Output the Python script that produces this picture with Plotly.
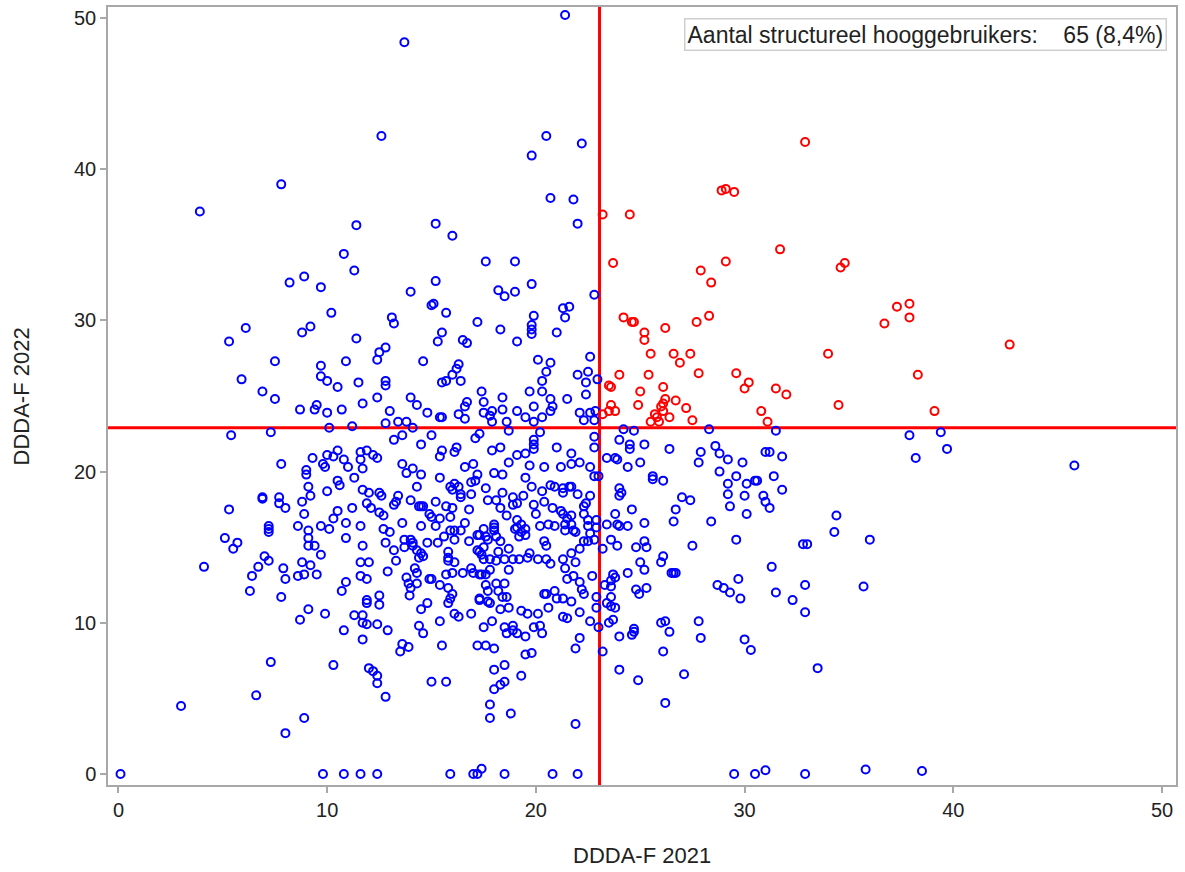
import plotly.graph_objects as go

# ---- data (x = DDDA-F 2021, y = DDDA-F 2022) ----
blue_top = [(21.4,50.2),(13.7,48.4),(12.6,42.2),(20.5,42.2),(22.2,41.7),(19.8,40.9),(7.8,39.0),(3.9,37.2),
 (20.7,38.1),(21.8,38.0),(11.4,36.3),(15.2,36.4),(16.0,35.6),(22.0,36.4),(10.8,34.4),(11.3,33.3),(17.6,33.9),
 (19.0,33.9),(8.2,32.5),(8.9,32.9),(9.7,32.2),(15.2,32.6),(14.0,31.9),(18.2,32.0),(18.5,31.6),(19.0,31.9),
 (19.8,32.4),(22.8,31.7)]

blue_upper_left = [(10.2,30.5),(6.1,29.5),(9.2,29.6),(8.8,29.2),(5.3,28.6),(11.4,28.8),(12.5,27.9),(12.4,27.4),
 (7.5,27.3),(9.7,27.0),(10.9,27.3),(5.9,26.1),(9.7,26.3),(10.0,26.0),(10.5,25.6),(11.5,25.9),(12.4,24.9),
 (6.9,25.3),(7.5,24.8),(8.7,24.1),(9.5,24.4),(9.4,24.1),(10.0,23.9),(10.7,24.1),(11.7,24.5),(10.1,22.9),
 (11.2,23.0),(5.4,22.4),(7.3,22.6),(10.5,21.4),(10.0,21.1),(10.3,21.0),(10.8,20.8),(9.8,20.5),(9.9,20.3),
 (11.0,20.3),(11.6,21.3),(11.9,21.4),(12.2,21.1),(11.6,20.8),(9.3,20.9),(7.8,20.5),(9.0,20.1),(11.7,20.2),
 (12.4,20.9)]

blue_upper_mid = [(15.0,31.0),(15.1,31.1),(15.7,30.5),(13.1,30.2),(13.2,29.8),(17.2,29.9),(19.9,30.3),(21.3,30.8),
 (21.6,30.9),(21.4,30.2),(18.3,29.4),(19.8,29.7),(19.8,29.4),(19.8,29.1),(21.0,29.2),(15.5,29.2),(15.3,28.6),
 (16.5,28.7),(16.7,28.5),(19.1,28.6),(12.8,28.2),(14.6,27.3),(16.3,27.1),(16.2,26.8),(16.0,26.4),(15.7,26.0),
 (15.5,25.9),(16.4,26.0),(12.8,26.0),(12.8,25.7),(20.1,27.4),(20.7,27.2),(20.5,26.6),(20.3,26.0),(22.6,27.6),
 (22.0,26.4),(22.5,26.6),(22.4,25.9),(22.95,26.1),(22.4,25.1),(21.5,24.8),(17.4,25.3),(19.7,25.3),(20.3,25.3),
 (14.0,24.9),(14.3,24.4),(13.0,24.0),(14.8,23.9),(16.7,24.6),(16.6,24.3),(16.3,23.8),(16.6,23.5),(15.4,23.6),
 (15.5,23.6),(17.5,24.6),(18.4,24.9),(17.5,23.9),(17.9,24.0),(17.8,23.7),(18.4,24.1),(19.1,24.0),(19.5,23.6),
 (19.9,24.3),(20.3,23.6),(20.7,24.8),(20.8,24.3),(20.7,24.0),(19.9,23.3),(17.9,23.3),(18.6,23.3),(22.1,23.9),
 (22.6,23.9),(22.85,24.0),(22.3,23.4),(22.8,23.4),(12.8,23.2),(13.4,23.3),(13.8,23.3),(14.1,22.9),(13.2,22.1),
 (13.6,22.4),(14.5,21.8),(15.0,22.4),(15.5,21.4),(15.4,21.0),(16.2,21.6),(16.1,21.3),(17.3,22.5),(17.1,22.2),
 (17.9,21.4),(18.3,21.6),(18.7,22.7),(20.2,22.6),(19.9,22.1),(19.9,21.8),(19.9,21.5),(21.0,21.6),(21.7,21.2),
 (22.8,22.3),(22.8,21.6),(19.1,21.1),(19.5,21.2),(18.7,20.6),(19.7,20.4),(20.4,20.3),(21.2,20.3),(21.7,20.5),
 (22.1,20.6),(22.6,20.3),(16.6,20.3),(17.0,20.5),(13.6,20.5),(14.1,20.2),
 (24.2,22.8),(24.7,22.7),(24.0,22.1),(24.5,21.8),(24.5,21.5),(25.2,21.8),(23.4,20.9),(23.8,20.9),(23.9,20.8),
 (24.4,20.3),(25.0,20.6)]

blue_upper_right = [(28.3,22.8),(31.5,22.7),(37.9,22.4),(38.2,20.9),(26.4,21.5),(27.9,21.3),(28.6,21.7),(28.8,21.2),
 (29.2,20.8),(27.8,20.6),(29.9,20.6),(31.0,21.3),(31.2,21.3),(31.8,21.0),(39.4,22.6),(39.7,21.5),(45.8,20.4)]

blue_mid_left = [(9.0,19.8),(11.3,19.6),(10.5,19.4),(10.6,19.1),(9.1,19.0),(10.0,18.7),(11.7,18.8),(12.0,18.6),
 (12.5,18.6),(9.2,18.4),(6.9,18.2),(6.9,18.3),(7.7,18.3),(7.7,17.9),(8.0,17.6),(8.8,18.0),(5.3,17.5),(8.9,17.2),
 (10.5,17.4),(10.3,16.9),(11.2,17.6),(11.9,17.9),(12.1,17.6),(12.5,17.3),(7.2,16.4),(7.2,16.2),(7.2,16.0),
 (8.6,16.4),(9.1,16.1),(9.7,16.4),(10.1,16.2),(10.9,16.6),(11.6,16.4),(5.1,15.6),(5.7,15.3),(5.5,14.9),(9.1,15.6),
 (9.1,15.1),(9.4,15.1),(10.9,15.6),(11.7,15.1),(9.7,14.5),(7.0,14.4),(7.2,14.1),(4.1,13.7),(6.7,13.7),(6.4,13.1),
 (7.9,13.6),(8.0,12.9),(8.8,14.0),(9.2,13.8),(8.6,13.1),(8.9,13.2),(9.5,13.2),(11.6,14.0),(12.0,14.0),(11.6,13.1),
 (11.9,12.9),(10.9,12.7),(10.7,12.1),(12.5,11.8),(12.5,11.2),(6.3,12.1),(7.8,11.7),(11.9,11.5),(11.9,11.3),
 (9.1,10.9),(8.7,10.2),(9.9,10.6),(11.3,10.5),(11.7,10.5),(11.7,10.0),(11.9,9.9),(12.4,9.9),(10.8,9.5),(11.7,8.9)]

blue_mid_center = [(13.8,19.9),(14.5,19.8),(15.4,19.6),(17.2,19.8),(18.0,19.9),(18.4,19.8),(19.5,19.6),(22.8,19.7),
 (23.0,19.7),(14.3,19.0),(15.9,19.0),(16.1,19.2),(16.3,19.0),(16.0,18.8),(16.4,18.5),(16.9,19.3),(17.1,19.4),
 (17.6,18.9),(18.4,18.6),(18.9,18.3),(19.4,18.4),(19.8,19.0),(20.3,18.7),(20.7,19.1),(20.9,19.0),(21.3,18.9),
 (21.3,18.6),(21.6,19.0),(21.7,19.0),(22.0,18.5),(22.6,18.4),(24.0,18.9),(24.1,18.6),(24.0,18.4),
 (12.6,18.4),(13.4,18.4),(13.3,18.0),(13.2,17.8),(14.0,18.1),(14.4,17.7),(14.5,17.7),(14.6,17.7),(15.2,18.0),
 (15.7,17.7),(16.0,17.6),(16.4,18.3),(16.9,18.5),(17.7,18.1),(18.1,18.1),(18.3,17.6),(19.1,17.9),(18.9,17.8),
 (19.9,17.8),(20.0,17.2),(20.4,18.0),(20.8,17.6),(21.2,17.4),(21.3,17.2),(21.7,17.1),(22.3,17.7),(22.4,17.9),
 (22.3,17.2),(22.5,16.8),(22.9,16.8),(23.8,17.2),(24.6,17.5),
 (12.7,17.1),(13.6,16.6),(14.9,17.2),(15.0,17.0),(15.4,16.9),(15.2,16.4),(14.5,16.4),(15.9,17.0),(15.9,16.1),
 (16.1,16.1),(16.4,16.1),(16.6,16.6),(16.8,17.5),(17.5,16.2),(18.0,16.5),(18.0,16.3),(18.0,16.1),(18.6,17.1),
 (19.1,16.8),(19.1,16.3),(19.3,16.5),(19.5,16.2),(19.3,16.0),(19.5,15.8),(19.2,15.7),(19.0,16.2),(20.2,16.4),
 (20.6,16.5),(20.9,16.4),(21.4,16.5),(21.5,16.9),(21.7,16.5),(21.8,16.1),(21.4,16.1),(21.9,16.0),(22.5,16.4),
 (22.9,16.3),(23.4,16.5),(23.9,16.5),(24.0,16.4),(24.4,16.4),(25.2,16.6),
 (12.7,16.2),(13.0,16.0),(12.8,15.3),(13.2,14.8),(13.7,15.5),(13.7,15.0),(14.0,15.5),(14.1,15.3),(14.1,15.1),
 (14.3,14.8),(14.5,14.6),(14.4,14.3),(14.6,14.4),(14.8,15.3),(15.3,15.3),(15.6,15.7),(16.1,15.5),(16.8,15.4),
 (17.2,15.8),(17.3,15.8),(17.6,15.7),(17.7,15.5),(17.5,15.0),(18.1,15.7),(18.3,15.4),(17.2,14.8),(17.3,14.7),
 (17.4,14.5),(17.5,14.2),(17.8,14.2),(18.2,14.7),(18.7,14.9),(18.5,14.2),(18.9,14.2),(19.2,14.2),(19.7,14.6),
 (19.6,14.3),(20.4,15.4),(20.5,15.1),(20.1,14.2),(20.5,14.2),(20.7,13.9),(21.3,14.2),(21.7,14.6),(21.9,14.0),
 (22.1,14.9),(22.3,15.4),(22.5,15.4),(22.8,15.5),(22.6,15.9),(23.2,14.9),(23.6,15.5),(23.9,15.1),(25.2,15.4),
 (24.8,15.0),(25.3,15.0),
 (13.3,14.1),(12.9,13.4),(13.8,13.0),(13.9,12.6),(14.2,13.6),(14.3,13.3),(14.3,12.6),(14.9,12.9),(15.0,12.9),
 (15.8,14.7),(15.8,14.3),(15.8,14.1),(16.1,14.0),(15.7,13.2),(16.0,13.3),(16.5,13.3),(16.9,13.6),(17.0,13.3),
 (17.3,13.2),(17.4,13.2),(17.6,13.2),(17.8,13.5),(18.1,14.1),(18.7,13.5),(21.4,13.6),(21.5,12.9),(21.8,13.1),
 (22.1,12.7),(22.7,13.1),(23.7,13.2),(23.8,13.0),(23.6,12.8),(24.4,13.3),(25.0,14.0),(25.2,13.5),
 (13.95,11.8),(14.0,12.3),(15.4,12.5),(15.8,12.3),(16.0,11.9),(15.9,11.6),(15.8,11.3),(17.3,11.6),(17.3,11.5),
 (17.6,12.5),(17.7,12.1),(17.7,11.4),(17.8,11.3),(18.1,12.6),(18.5,12.6),(18.2,12.1),(18.4,11.7),(18.6,11.7),
 (20.4,11.9),(20.5,11.9),(20.9,12.1),(21.0,11.6),(21.3,11.6),(21.7,11.4),(22.2,12.2),(22.3,11.9),(22.9,11.7),
 (23.3,12.5),(23.6,12.4),(23.6,11.7),(23.4,11.3),(23.6,11.1),(23.8,11.0),(24.8,12.2),(24.95,11.9),(25.3,12.3),
 (14.5,10.9),(14.8,11.3),(15.4,10.1),(16.1,10.6),(16.3,10.4),(16.9,10.6),(17.5,9.7),(17.9,10.1),(18.3,10.9),
 (18.7,11.0),(19.3,10.8),(19.6,10.6),(20.1,10.6),(20.6,11.0),(21.3,10.4),(21.5,10.3),(22.1,10.7),(22.6,10.1),
 (22.9,11.0),(23.0,9.7),(23.7,10.2),(23.5,10.0),(24.0,9.1),(24.7,9.6),(24.7,9.4),(24.6,9.2),(12.9,9.5),(14.4,9.8),
 (14.6,9.3),(18.5,9.7),(18.6,9.3),(18.9,9.8),(18.9,9.5),(19.1,9.3),(19.5,9.1),(19.9,9.7),(20.2,9.8),(20.3,9.3),
 (22.1,9.0)]

blue_mid_right = [(25.6,19.7),(25.6,19.5),(26.1,19.4),(28.8,20.0),(29.6,19.7),(29.2,19.2),(30.1,19.2),(30.5,19.4),
 (30.6,19.4),(31.4,19.7),(31.8,18.8),(27.0,18.3),(27.4,18.1),(29.2,18.5),(29.3,17.7),(30.0,18.4),(30.9,18.4),
 (31.0,18.0),(31.2,17.6),(30.1,17.2),(26.7,17.5),(26.6,16.7),(28.4,16.7),(34.4,17.1),(34.3,16.0),(36.0,15.5),
 (29.6,15.5),(27.5,15.1),(32.8,15.2),(33.0,15.2),(26.1,14.4),(26.0,14.0),(26.5,13.3),(26.6,13.3),(26.7,13.3),
 (31.3,13.7),(28.7,12.5),(29.0,12.3),(29.3,12.0),(29.8,11.6),(29.7,12.9),(31.5,12.0),(32.9,12.5),(32.3,11.5),
 (32.9,10.7),(35.7,12.4),(26.0,10.0),(26.2,10.1),(27.8,10.1),(26.4,9.4),(27.9,9.0),(30.0,8.9)]

blue_low = [(13.6,8.6),(13.9,8.4),(13.5,8.1),(15.5,8.5),(17.2,8.5),(17.6,8.5),(18.0,8.3),(19.5,7.9),(19.8,8.0),
 (21.9,8.3),(23.2,8.1),(24.0,6.9),(24.9,6.2),(7.3,7.4),(10.3,7.2),(12.0,7.0),(12.2,6.8),(12.4,6.5),(12.4,6.0),
 (12.8,5.1),(15.0,6.1),(15.7,6.1),(18.0,6.9),(18.5,7.2),(19.3,6.5),(18.0,5.6),(18.3,5.9),(18.5,6.1),(17.8,4.6),
 (17.8,3.7),(18.8,4.0),(21.9,3.3),(6.6,5.2),(3.0,4.5),(8.9,3.7),(8.0,2.7),
 (26.1,8.1),(30.3,8.2),(33.5,7.0),(27.1,6.6),(26.2,4.7)]

blue_zero = [(0.1,0.0),(9.8,0.0),(10.8,0.0),(11.6,0.0),(12.4,0.0),(15.9,0.0),(17.0,0.0),(17.2,0.0),(17.4,0.35),
 (18.5,0.0),(20.8,0.0),(22.0,0.0),(29.5,0.0),(30.5,0.0),(31.0,0.25),(32.9,0.0),(35.8,0.3),(38.5,0.2)]

red_points = [(23.2,37.0),(24.5,37.0),(23.7,33.8),(32.9,41.8),(28.9,38.6),(29.1,38.7),(29.5,38.5),(31.7,34.7),
 (29.1,33.9),(27.9,33.3),(28.4,32.5),(34.6,33.5),(34.8,33.8),(37.3,30.9),(37.9,31.1),(36.7,29.8),(37.9,30.2),
 (42.7,28.4),(39.1,24.0),(38.3,26.4),(26.2,29.5),(27.7,29.9),(28.3,30.3),(25.5,27.8),(26.6,27.8),(27.4,27.8),
 (26.9,27.2),(25.4,26.4),(27.8,26.5),(29.6,26.5),(30.2,25.9),(30.0,25.5),(34.0,27.8),(31.5,25.5),(32.0,25.1),
 (26.1,25.6),(26.2,24.8),(26.1,24.5),(26.1,24.0),(26.7,24.7),(27.2,24.2),(25.7,23.8),(26.4,23.6),(25.5,23.3),
 (25.9,23.3),(27.5,23.4),(30.8,24.0),(31.1,23.3),(34.5,24.4),(24.2,30.2),(24.6,29.9),(24.7,29.9),(25.2,29.2),
 (25.2,28.7),(24.0,26.4),(23.5,25.7),(23.6,25.6),(25.0,25.3),(24.9,24.4),(23.6,24.4),(23.5,24.0),(23.8,24.0),
 (23.2,23.8),(26.0,24.3),(25.8,23.6)]

threshold_x = 23.05
threshold_y = 22.9
x_ticks = [0, 10, 20, 30, 40, 50]
y_ticks = [0, 10, 20, 30, 40, 50]
legend_text = "Aantal structureel hooggebruikers:\u00a0\u00a0\u00a0 65 (8,4%)"
x_title = "DDDA-F 2021"
y_title = "DDDA-F 2022"

blue_all = (blue_top + blue_upper_left + blue_upper_mid + blue_upper_right + blue_mid_left
            + blue_mid_center + blue_mid_right + blue_low + blue_zero)

FONT = "Arial, 'Liberation Sans', sans-serif"

fig = go.Figure()
fig.add_trace(go.Scatter(
    x=[p[0] for p in blue_all], y=[p[1] for p in blue_all], mode="markers",
    marker=dict(symbol="circle-open", size=8, color="#0000ff", line=dict(width=2, color="#0000ff")),
    hoverinfo="x+y", showlegend=False))
fig.add_trace(go.Scatter(
    x=[p[0] for p in red_points], y=[p[1] for p in red_points], mode="markers",
    marker=dict(symbol="circle-open", size=8, color="#ff0000", line=dict(width=2, color="#ff0000")),
    hoverinfo="x+y", showlegend=False))

fig.add_shape(type="line", xref="x", yref="paper", x0=threshold_x, x1=threshold_x, y0=0, y1=1,
              line=dict(color="#ff0000", width=3), layer="below")
fig.add_shape(type="line", xref="paper", yref="y", x0=0, x1=1, y0=threshold_y, y1=threshold_y,
              line=dict(color="#ff0000", width=3), layer="below")

axis_common = dict(showgrid=False, zeroline=False, showline=True, mirror=True,
                   linecolor="#a8a8a8", linewidth=1.5, ticks="outside", ticklen=6,
                   tickcolor="#a8a8a8", tickwidth=1.5, automargin=False,
                   tickfont=dict(family=FONT, size=20, color="#222222"))

fig.update_xaxes(range=[-0.5, 50.67], tickvals=x_ticks, **axis_common)
fig.update_yaxes(range=[-0.73, 50.73], tickvals=y_ticks, **axis_common)

fig.add_annotation(text=legend_text, xref="paper", yref="paper", x=0.992, y=0.986,
                   xanchor="right", yanchor="top", showarrow=False,
                   font=dict(family=FONT, size=23, color="#222222"),
                   bordercolor="#cfcfcf", borderwidth=1.5, borderpad=2, bgcolor="white")
fig.add_annotation(text=x_title, xref="paper", yref="paper", x=0.5, y=-0.09,
                   xanchor="center", yanchor="middle", showarrow=False,
                   font=dict(family=FONT, size=22, color="#222222"))
fig.add_annotation(text=y_title, xref="paper", yref="paper", x=-0.081, y=0.5,
                   xanchor="center", yanchor="middle", showarrow=False, textangle=-90,
                   font=dict(family=FONT, size=22, color="#222222"))

fig.update_layout(width=1185, height=872, margin=dict(l=108, r=9, t=7, b=87),
                  paper_bgcolor="white", plot_bgcolor="white", showlegend=False)

fig.write_html("out.html", config={"displayModeBar": False},
               post_script="document.body.style.margin='0';document.body.style.overflow='hidden';")
